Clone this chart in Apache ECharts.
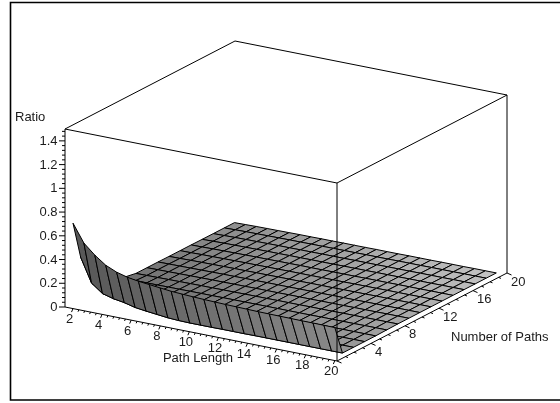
<!DOCTYPE html>
<html>
<head>
<meta charset="utf-8">
<style>html,body{margin:0;padding:0;background:#fff}#c{width:560px;height:403px}</style>
<script src="https://cdn.jsdelivr.net/npm/echarts@6/dist/echarts.min.js"></script>
</head>
<body>
<div id="c"></div>
<script>
// ---- data ----
const pathLength = [2,2.75,3.5,4.25,5,5.75,6.5,7.25,8,8.75,9.5,10.25,11,11.75,12.5,13.25,14,14.75,15.5,16.25,17,17.75,18.5,19.25,20];
const numberOfPaths = [0,0.9,2.2,3.5,4.8,6.1,7.4,8.7,10,11.3,12.6,13.9,15.2,16.5,17.8,19];
const ratioFront = [.72,.57,.487,.42,.38,.355,.34,.33,.32,.31,.305,.30,.296,.293,.29,.288,.286,.284,.283,.282,.281,.28,.28,.279,.278];
const ratioRow1  = [.40,.20,.13,.105,.09,.067,.055,.045,.035,.03,.028,.028,.028,.029,.029,.029,.03,.03,.03,.03,.03,.03,.03,.03,.03];
const ratioRow2  = [.17,.08,.055,.042,.035,.032,.03,.03,.03,.03,.03,.03,.03,.03,.03,.03,.03,.03,.03,.03,.03,.03,.03,.03,.03];
const ratioRow3  = [.10,.05,.038,.032,.03,.03,.03,.03,.03,.03,.03,.03,.03,.03,.03,.03,.03,.03,.03,.03,.03,.03,.03,.03,.03];
const ratioRow4  = [.06,.035,.03,.03,.03,.03,.03,.03,.03,.03,.03,.03,.03,.03,.03,.03,.03,.03,.03,.03,.03,.03,.03,.03,.03];
const ratioRow5  = [.04,.028,.027,.027,.028,.028,.029,.029,.029,.03,.03,.03,.03,.03,.03,.03,.03,.03,.031,.031,.031,.031,.032,.032,.032];
const plateauNear = [.022,.023,.024,.025,.026,.027,.028,.028,.029,.029,.03,.03,.03,.031,.031,.031,.032,.032,.032,.033,.033,.033,.034,.034,.034];
const plateauMid  = [.021,.022,.024,.025,.026,.027,.028,.028,.029,.029,.03,.03,.03,.031,.031,.031,.032,.032,.032,.033,.033,.033,.034,.034,.034];
const plateauFar  = [.02,.022,.024,.025,.026,.027,.028,.028,.029,.029,.03,.03,.03,.031,.031,.031,.032,.032,.032,.033,.033,.033,.034,.034,.034];
const ratioRows = [ratioFront,ratioRow1,ratioRow2,ratioRow3,ratioRow4,ratioRow5,
  plateauNear,plateauNear,plateauNear,
  plateauMid,plateauMid,plateauMid,
  plateauFar,plateauFar,plateauFar,plateauFar];

const ratioTicks = [0,0.2,0.4,0.6,0.8,1,1.2,1.4];
const lengthTicks = [2,4,6,8,10,12,14,16,18,20];
const pathTicks = [4,8,12,16,20];

// ---- 3D box ranges and oblique projection ----
const xRange = [1.45,20.15], pRange = [0,20], zRange = [0,1.5];
const origin = [65,307], xVec = [272,54], pVec = [170,-88], zVec = [0,-178];
function project(x,p,z){
  const a=(x-xRange[0])/(xRange[1]-xRange[0]), b=(p-pRange[0])/(pRange[1]-pRange[0]), c=(z-zRange[0])/(zRange[1]-zRange[0]);
  return [origin[0]+a*xVec[0]+b*pVec[0]+c*zVec[0], origin[1]+a*xVec[1]+b*pVec[1]+c*zVec[1]];
}
const font = '13px "Liberation Sans", Arial, sans-serif';

// painter's order: far rows first, low x first
const quads = [];
for (let j=numberOfPaths.length-2;j>=0;j--) for (let i=0;i<pathLength.length-1;i++) quads.push([i,j]);

function shade(i,j){
  const v = j===0 ? 0x58+i/23*0x30 : 0x60+i/23*0x32+j/14*0x30;
  const h = Math.round(v);
  return 'rgb('+h+','+h+','+h+')';
}
function renderQuad(params,api){
  const i=api.value(0), j=api.value(1);
  const pts=[[i,j],[i+1,j],[i+1,j+1],[i,j+1]].map(q=>api.coord(project(pathLength[q[0]],numberOfPaths[q[1]],ratioRows[q[1]][q[0]])));
  return {type:'polygon',shape:{points:pts},style:{fill:shade(i,j),stroke:'#000',lineWidth:1}};
}

// box edges
const X0=xRange[0],X1=xRange[1],P0=pRange[0],P1=pRange[1],Z0=zRange[0],Z1=zRange[1];
const boxEdges=[
 [X0,P0,Z1,X1,P0,Z1],[X1,P0,Z1,X1,P1,Z1],[X1,P1,Z1,X0,P1,Z1],[X0,P1,Z1,X0,P0,Z1],
 [X0,P0,Z0,X0,P0,Z1],[X1,P0,Z0,X1,P0,Z1],[X1,P1,Z0,X1,P1,Z1],
 [X0,P0,Z0,X1,P0,Z0],[X1,P0,Z0,X1,P1,Z0]
];
function renderEdge(params,api){
  const a=api.coord(project(api.value(0),api.value(1),api.value(2)));
  const b=api.coord(project(api.value(3),api.value(4),api.value(5)));
  return {type:'line',shape:{x1:a[0],y1:a[1],x2:b[0],y2:b[1]},style:{stroke:'#000',lineWidth:1}};
}

// ticks: [axis, value, isMajor]
const tickData=[];
for(let k=0;k<=37;k++){const v=k*0.04; tickData.push([0,v,k%5===0?1:0]);}
for(let k=0;k<=45;k++){const v=2+k*0.4; tickData.push([1,v,k%5===0?1:0]);}
for(let k=0;k<=20;k++){tickData.push([2,k,k%4===0?1:0]);}
function renderTick(params,api){
  const ax=api.value(0),v=api.value(1),m=api.value(2);
  let a,d;
  if(ax===0){a=project(X0,P0,v);d=[m?-6:-3,0];}
  else if(ax===1){a=project(v,P0,Z0);d=m?[-1.5,3.5]:[-0.8,2];}
  else {a=project(X1,v,Z0);d=m?[4.5,2]:[2.5,1];}
  const p=api.coord(a), q=api.coord([a[0]+d[0],a[1]+d[1]]);
  return {type:'line',shape:{x1:p[0],y1:p[1],x2:q[0],y2:q[1]},style:{stroke:'#000',lineWidth:1}};
}

// labels
const labelData=[];
ratioTicks.forEach(v=>{const a=project(X0,P0,v);labelData.push({text:String(v),pos:[a[0]-7.5,a[1]+0.5],align:'right'});});
lengthTicks.forEach(v=>{const a=project(v,P0,Z0);labelData.push({text:String(v),pos:[a[0]-3.5,a[1]+11],align:'center'});});
pathTicks.forEach(v=>{const a=project(X1,v,Z0);labelData.push({text:String(v),pos:[a[0]+4,a[1]+9],align:'left'});});
labelData.push({text:'Ratio',pos:[15,117],align:'left'});
labelData.push({text:'Path Length',pos:[198,358.5],align:'center'});
labelData.push({text:'Number of Paths',pos:[451,337],align:'left'});

const chart=echarts.init(document.getElementById('c'),null,{renderer:'canvas'});
chart.setOption({
  animation:false,
  backgroundColor:'#fff',
  grid:{left:0,right:0,top:0,bottom:0},
  xAxis:{type:'value',min:0,max:560,show:false},
  yAxis:{type:'value',min:0,max:403,inverse:true,show:false},
  graphic:[{type:'rect',shape:{x:10.5,y:2.5,width:600,height:397.5},style:{fill:'none',stroke:'#000',lineWidth:1.6},silent:true}],
  tooltip:{show:false},
  series:[
    {type:'custom',name:'Ratio',coordinateSystem:'cartesian2d',clip:false,silent:true,data:quads,renderItem:renderQuad,z:2},
    {type:'custom',name:'Box',coordinateSystem:'cartesian2d',clip:false,silent:true,data:boxEdges,renderItem:renderEdge,z:3},
    {type:'custom',name:'Ticks',coordinateSystem:'cartesian2d',clip:false,silent:true,data:tickData,renderItem:renderTick,z:3},
    {type:'custom',name:'Labels',coordinateSystem:'cartesian2d',clip:false,silent:true,
      data:labelData.map(d=>({value:[d.pos[0],d.pos[1]],text:d.text,align:d.align})),
      renderItem:function(params,api){
        const d=labelData[params.dataIndex], p=api.coord(d.pos);
        return {type:'text',style:{x:p[0],y:p[1],text:d.text,fill:'#1a1a1a',font:font,align:d.align,verticalAlign:'middle'}};
      },z:4}
  ]
});
</script>
</body>
</html>
